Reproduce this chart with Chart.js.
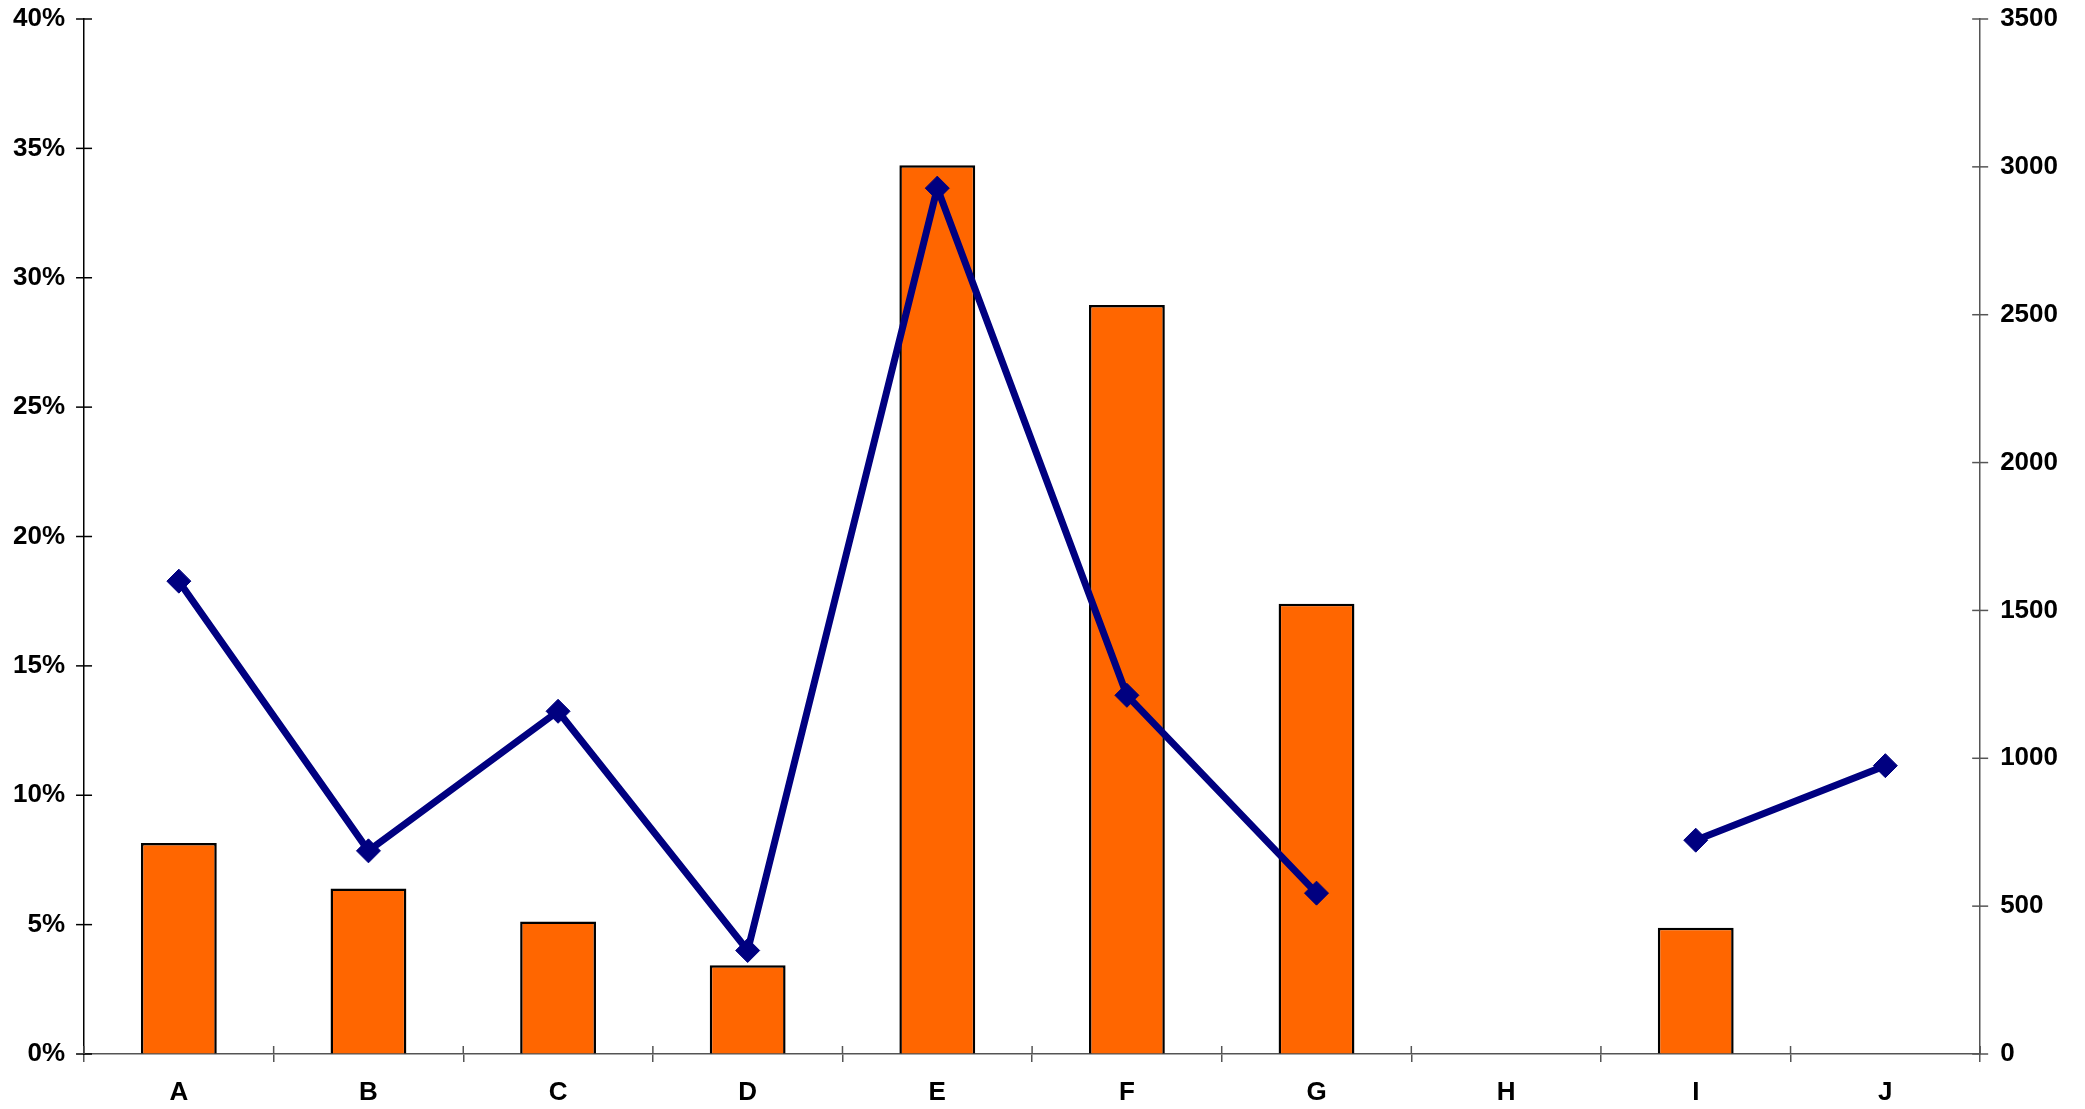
<!DOCTYPE html>
<html lang="en">
<head>
    <meta charset="UTF-8">
    <title>Bars and line by category</title>
    <script src="https://cdn.jsdelivr.net/npm/chart.js"></script>
    <style>
        body {
            margin: 0;
            padding: 0;
            background: #fff;
        }

        .chart-box {
            width: 2085px;
            height: 1109px;
        }
    </style>
</head>
<body>
    <div class="chart-box">
        <canvas id="mainChart"></canvas>
    </div>

    <script>
        // values
        const categories = ['A', 'B', 'C', 'D', 'E', 'F', 'G', 'H', 'I', 'J'];
        const barPercent = [8.15, 6.4, 5.12, 3.43, 34.35, 28.95, 17.4, null, 4.88, null];
        const lineValues = [1599, 687, 1159, 350, 2928, 1213, 544, null, 723, 975];
        const leftTicks = [0, 5, 10, 15, 20, 25, 30, 35, 40];
        const rightTicks = [0, 500, 1000, 1500, 2000, 2500, 3000, 3500];

        const tickFont = { family: "'Liberation Sans', Arial, sans-serif", size: 26, weight: 'bold', lineHeight: 1 };

        // ticks in the original cross the axis; y ticks are drawn here on both sides,
        // x ticks only get their inner half here (chart.js draws the outer half)
        const crossTicks = {
            id: 'crossTicks',
            afterDraw(chart) {
                const ctx = chart.ctx;
                const area = chart.chartArea;
                const len = 8;
                ctx.save();
                ctx.lineWidth = 1.5;

                const yl = chart.scales.yLeft;
                ctx.strokeStyle = '#000';
                yl.ticks.forEach((t, i) => {
                    const y = yl.getPixelForTick(i);
                    ctx.beginPath();
                    ctx.moveTo(area.left - len, y);
                    ctx.lineTo(area.left + len, y);
                    ctx.stroke();
                });

                const yr = chart.scales.yRight;
                ctx.strokeStyle = '#555';
                yr.ticks.forEach((t, i) => {
                    const y = yr.getPixelForTick(i);
                    ctx.beginPath();
                    ctx.moveTo(area.right - len, y);
                    ctx.lineTo(area.right + len, y);
                    ctx.stroke();
                });

                const xs = chart.scales.x;
                for (let i = 0; i <= categories.length; i++) {
                    const x = xs.getPixelForValue(i - 0.5);
                    ctx.beginPath();
                    ctx.moveTo(x, area.bottom - len);
                    ctx.lineTo(x, area.bottom);
                    ctx.stroke();
                }
                ctx.restore();
            }
        };

        const ctxMain = document.getElementById('mainChart').getContext('2d');

        new Chart(ctxMain, {
            data: {
                labels: categories,
                datasets: [{
                    type: 'line',
                    label: 'Line',
                    data: lineValues,
                    yAxisID: 'yRight',
                    borderColor: '#000080',
                    backgroundColor: '#000080',
                    borderWidth: 7,
                    pointStyle: 'rectRot',
                    pointRadius: 12,
                    pointBorderWidth: 1,
                    pointBorderColor: '#000080',
                    pointBackgroundColor: '#000080',
                    spanGaps: false,
                    tension: 0,
                    order: 1
                }, {
                    type: 'bar',
                    label: 'Bars',
                    data: barPercent,
                    yAxisID: 'yLeft',
                    backgroundColor: '#FF6600',
                    borderColor: '#000',
                    borderWidth: 2.5,
                    borderSkipped: 'bottom',
                    categoryPercentage: 1.0,
                    barPercentage: 0.4,
                    order: 2
                }]
            },
            options: {
                responsive: true,
                maintainAspectRatio: false,
                animation: false,
                layout: {
                    // the x labels sit further from the axis than chart.js reserves room for
                    padding: { top: 0, left: 7, right: 21, bottom: -15 }
                },
                plugins: {
                    legend: { display: false },
                    tooltip: { enabled: false }
                },
                scales: {
                    x: {
                        offset: true,
                        grid: {
                            offset: true,
                            drawOnChartArea: false,
                            drawTicks: true,
                            tickLength: 8,
                            color: '#555',
                            lineWidth: 1.5
                        },
                        border: { color: '#555', width: 1.5 },
                        ticks: {
                            color: '#000',
                            font: tickFont,
                            padding: 18,
                            maxRotation: 0
                        }
                    },
                    yLeft: {
                        position: 'left',
                        min: 0,
                        max: 40,
                        afterBuildTicks(axis) {
                            axis.ticks = leftTicks.map(v => ({ value: v }));
                        },
                        grid: {
                            drawOnChartArea: false,
                            tickLength: 13,
                            tickColor: 'rgba(0,0,0,0)'
                        },
                        border: { color: '#000', width: 1.5 },
                        ticks: {
                            color: '#000',
                            font: tickFont,
                            padding: 6,
                            callback: v => v + '%'
                        }
                    },
                    yRight: {
                        position: 'right',
                        min: 0,
                        max: 3500,
                        afterBuildTicks(axis) {
                            axis.ticks = rightTicks.map(v => ({ value: v }));
                        },
                        grid: {
                            drawOnChartArea: false,
                            tickLength: 14,
                            tickColor: 'rgba(0,0,0,0)'
                        },
                        border: { color: '#555', width: 1.5 },
                        ticks: {
                            color: '#000',
                            font: tickFont,
                            padding: 6,
                            callback: v => String(v)
                        }
                    }
                }
            },
            plugins: [crossTicks]
        });
    </script>
</body>
</html>
